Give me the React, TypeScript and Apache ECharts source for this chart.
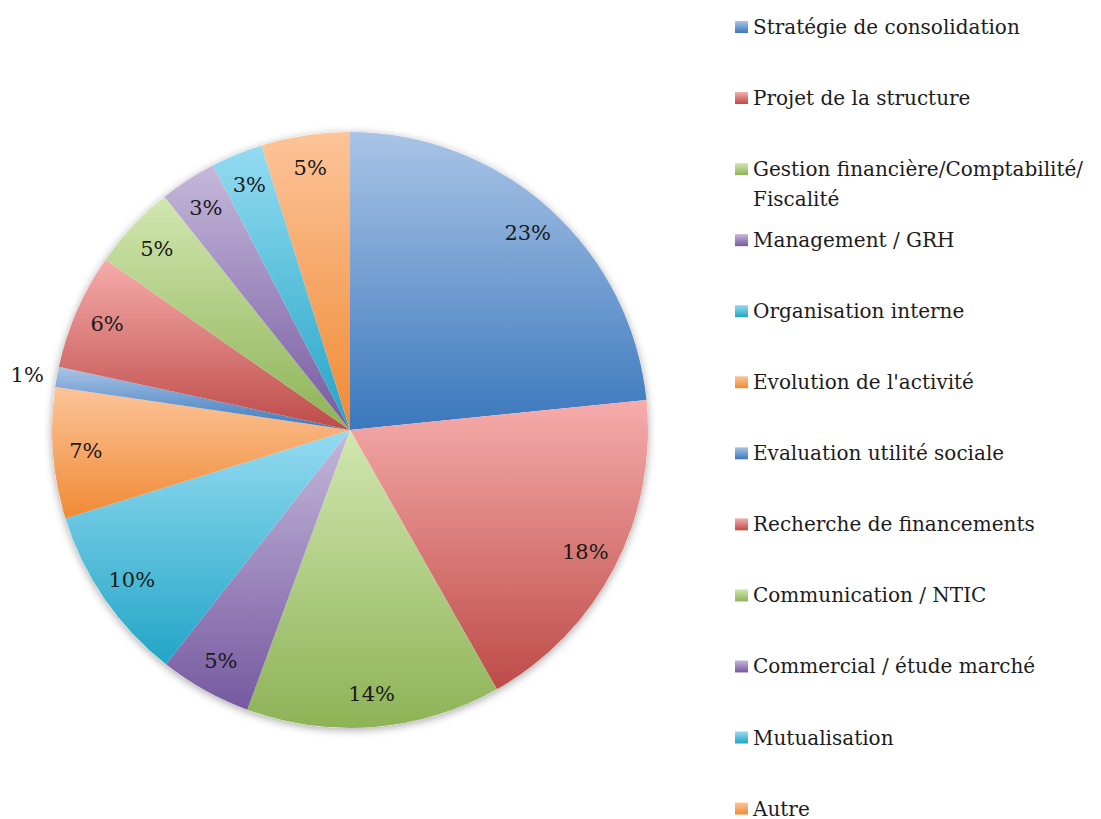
import React, { useEffect, useRef } from "react";
import * as echarts from "echarts";

const categories = [
  "Stratégie de consolidation",
  "Projet de la structure",
  "Gestion financière/Comptabilité/\nFiscalité",
  "Management / GRH",
  "Organisation interne",
  "Evolution de l'activité",
  "Evaluation utilité sociale",
  "Recherche de financements",
  "Communication / NTIC",
  "Commercial / étude marché",
  "Mutualisation",
  "Autre",
];

const values = [23.4, 18.4, 13.8, 5.0, 9.6, 7.1, 1.1, 6.3, 4.6, 3.1, 2.8, 4.8];

const topColors = ["#a9c4e6", "#f6acab", "#d1e7b0", "#c4b8da", "#94dbf1", "#fcc499"];
const bottomColors = ["#3b78bd", "#bd4b48", "#8db356", "#7659a0", "#22a5c6", "#f08a35"];

const outsideLabelIndex = 6;

const FONT = "DejaVu Serif";

function gradient(i: number) {
  const k = i % topColors.length;
  return {
    type: "linear",
    x: 0,
    y: 0,
    x2: 0,
    y2: 1,
    colorStops: [
      { offset: 0, color: topColors[k] },
      { offset: 1, color: bottomColors[k] },
    ],
  };
}

export default function App() {
  const ref = useRef<HTMLDivElement>(null);

  useEffect(() => {
    if (!ref.current) return;
    const chart = echarts.init(ref.current, null, { renderer: "svg" });

    const cx = 350;
    const cy = 430;
    const R = 298;

    const mainData = categories.map((name, i) => ({
      name,
      value: values[i],
      itemStyle: { color: gradient(i) },
    }));

    const labelData = categories.map((name, i) => {
      const d: any = { name, value: values[i] };
      if (i === outsideLabelIndex) {
        d.label = { position: "outside" };
        d.labelLine = { show: false, length: 8, length2: 0 };
      }
      return d;
    });

    const legendTop0 = 26;
    const legendStep = 71.05;
    const lineH = 30;

    const legends = categories.map((name, i) => {
      const extra = name.split("\n").length - 1;
      return {
        data: [name],
        orient: "vertical",
        left: 735,
        top: legendTop0 + legendStep * i - 14 - extra * lineH,
        padding: 0,
        itemWidth: 13,
        itemHeight: 12,
        icon: "rect",
        selectedMode: false,
        // prepend empty lines so the icon lines up with the first text line
        formatter: (n: string) => "\n".repeat(extra) + n,
        textStyle: {
          fontFamily: FONT,
          fontSize: 20,
          color: "#1c1c1c",
          lineHeight: lineH,
        },
      };
    });

    chart.setOption({
      animation: false,
      backgroundColor: "#ffffff",
      legend: legends,
      graphic: {
        elements: [
          {
            type: "circle",
            z: 0,
            silent: true,
            shape: { cx, cy, r: R },
            style: {
              fill: "#ffffff",
              shadowBlur: 8,
              shadowColor: "rgba(0,0,0,0.35)",
              shadowOffsetY: 2,
            },
          },
        ],
      },
      series: [
        {
          type: "pie",
          center: [cx, cy],
          radius: [0, R],
          startAngle: 90,
          clockwise: true,
          avoidLabelOverlap: false,
          silent: true,
          label: { show: false },
          labelLine: { show: false },
          itemStyle: { borderWidth: 0 },
          data: mainData,
        },
        {
          type: "pie",
          center: [cx, cy],
          radius: [226, R],
          startAngle: 90,
          clockwise: true,
          avoidLabelOverlap: false,
          silent: true,
          itemStyle: { color: "rgba(0,0,0,0)", borderWidth: 0 },
          label: {
            show: true,
            position: "inside",
            fontFamily: FONT,
            fontSize: 21,
            color: "#1a1a1a",
            formatter: (p: any) => Math.round(p.percent) + "%",
          },
          labelLine: { show: false },
          data: labelData,
        },
      ],
    });

    return () => chart.dispose();
  }, []);

  return (
    <div
      ref={ref}
      style={{ position: "fixed", left: 0, top: 0, width: 1101, height: 819 }}
    />
  );
}
